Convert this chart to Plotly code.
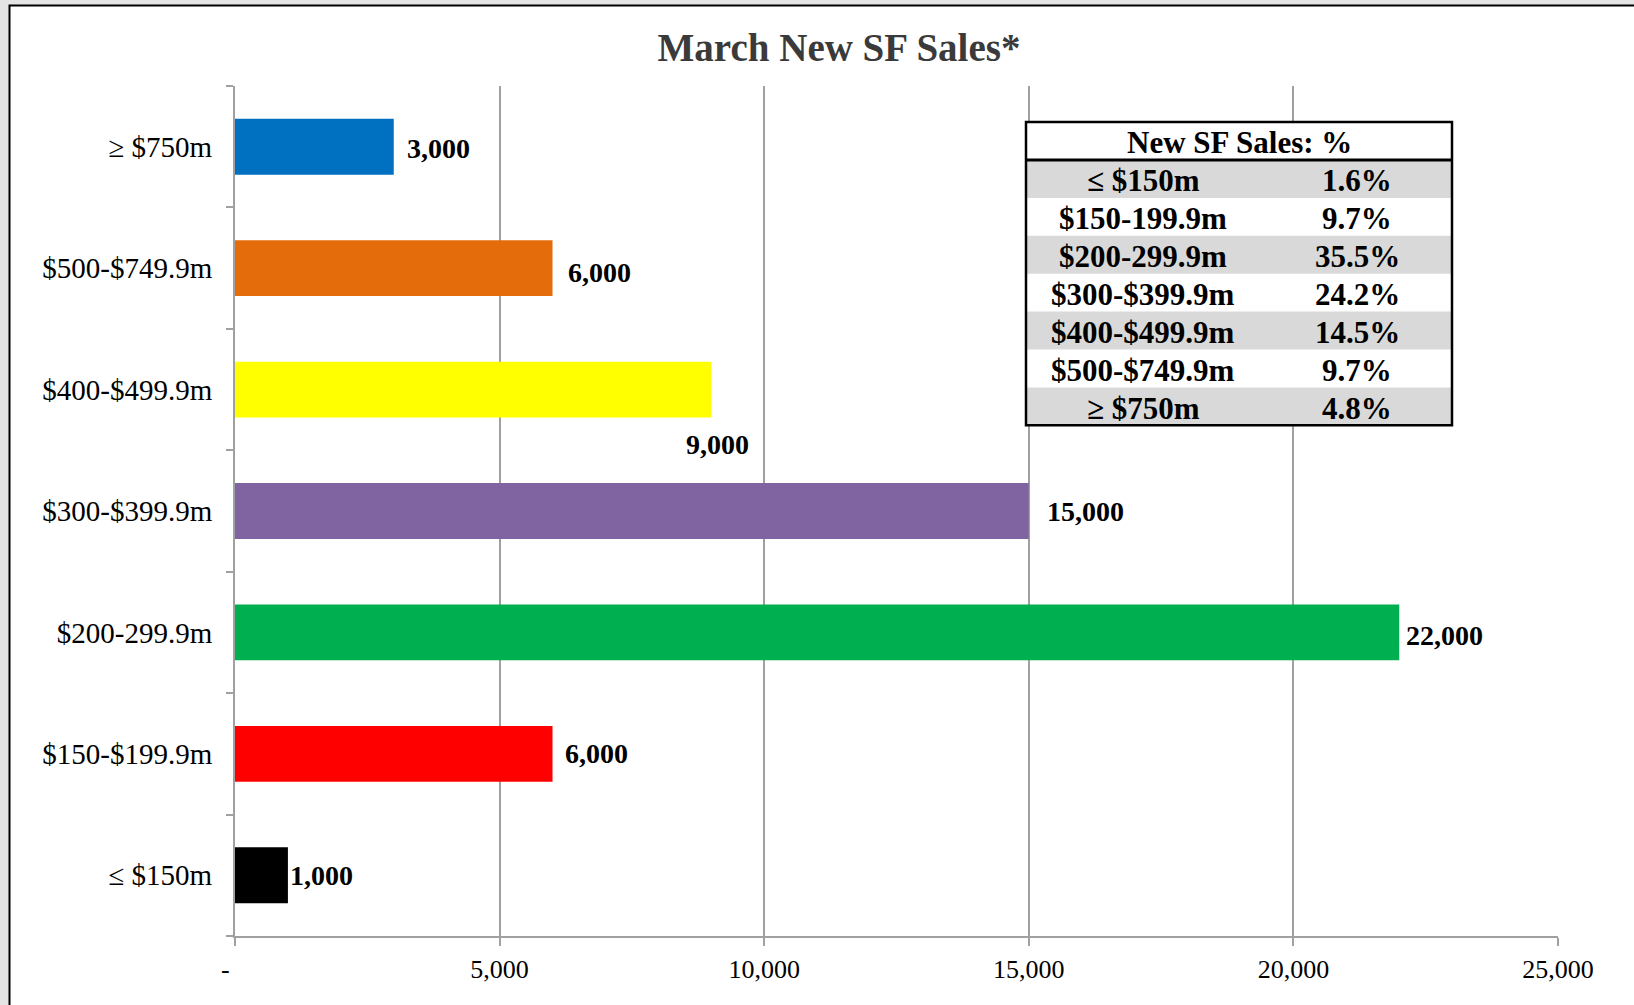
import plotly.graph_objects as go

# ---------------- data ----------------
categories = ["≤ $150m", "$150-$199.9m", "$200-299.9m", "$300-$399.9m",
              "$400-$499.9m", "$500-$749.9m", "≥ $750m"]
sales = [1000, 6000, 22000, 15000, 9000, 6000, 3000]
bar_colors = ["#000000", "#ff0000", "#00b050", "#8064a2", "#ffff00", "#e46c0a", "#0070c0"]

x_tickvals = [0, 5000, 10000, 15000, 20000, 25000]
x_ticktext = ["-\u00a0\u00a0\u00a0", "5,000", "10,000", "15,000", "20,000", "25,000"]

table_header = "New SF Sales: %"
table_labels = ["≤ $150m", "$150-199.9m", "$200-299.9m", "$300-$399.9m",
                "$400-$499.9m", "$500-$749.9m", "≥ $750m"]
table_values = ["1.6%", "9.7%", "35.5%", "24.2%", "14.5%", "9.7%", "4.8%"]

# label offsets (style only)
lbl_xshift = [0, 10, 5, 16, 6, 13, 11]
lbl_yshift = [0, 0, -3, 0, -55, -4, -2]
lbl_anchor = ["left", "left", "left", "left", "center", "left", "left"]

FONT = "Liberation Serif, Times New Roman, serif"
GRID = "#a0a0a0"

W, H = 1634, 1005
ML, MR, MT, MB = 235, 76, 86, 69
PW, PH = W - ML - MR, H - MT - MB


def px_x(p):
    return (p - ML) / PW


def px_y(p):
    return (H - MB - p) / PH


fig = go.Figure()
fig.add_trace(go.Bar(
    y=categories, x=sales, orientation="h",
    marker=dict(color=bar_colors, line=dict(width=0)),
    hoverinfo="x+y", showlegend=False,
))

annotations = []
for i, (c, v) in enumerate(zip(categories, sales)):
    annotations.append(dict(
        x=v, y=c, xref="x", yref="y", text=f"{v:,}", showarrow=False,
        xanchor=lbl_anchor[i], yanchor="middle",
        xshift=lbl_xshift[i], yshift=lbl_yshift[i],
        font=dict(family=FONT, size=28, color="black", weight="bold"),
    ))

# table
tx0, tx1 = px_x(1026), px_x(1452)
ty_top = 122
header_h = 38
row_h = 37.9
TFS = 31
TXT_DY = 2
shapes = []
# chart frame
shapes.append(dict(type="rect", xref="paper", yref="paper",
                   x0=px_x(9.5), x1=px_x(1700), y0=px_y(1100), y1=px_y(5.5),
                   fillcolor="white", line=dict(color="black", width=2), layer="below"))
# table background
shapes.append(dict(type="rect", xref="paper", yref="paper",
                   x0=tx0, x1=tx1, y0=px_y(ty_top + header_h + row_h * len(table_labels)),
                   y1=px_y(ty_top), fillcolor="white", line=dict(width=0), layer="above"))
for i in range(len(table_labels)):
    top = ty_top + header_h + row_h * i
    if i % 2 == 0:
        shapes.append(dict(type="rect", xref="paper", yref="paper",
                           x0=tx0, x1=tx1, y0=px_y(top + row_h), y1=px_y(top),
                           fillcolor="#d9d9d9", line=dict(width=0), layer="above"))
    annotations.append(dict(x=px_x(1143), y=px_y(top + row_h / 2 + TXT_DY), xref="paper", yref="paper",
                            text=table_labels[i], showarrow=False, xanchor="center", yanchor="middle",
                            font=dict(family=FONT, size=TFS, color="black", weight="bold")))
    annotations.append(dict(x=px_x(1357), y=px_y(top + row_h / 2 + TXT_DY), xref="paper", yref="paper",
                            text=table_values[i], showarrow=False, xanchor="center", yanchor="middle",
                            font=dict(family=FONT, size=TFS, color="black", weight="bold")))
annotations.append(dict(x=(tx0 + tx1) / 2, y=px_y(ty_top + header_h / 2 + 1), xref="paper", yref="paper",
                        text=table_header, showarrow=False, xanchor="center", yanchor="middle",
                        font=dict(family=FONT, size=TFS, color="black", weight="bold")))
# header separator line
shapes.append(dict(type="line", xref="paper", yref="paper", x0=tx0, x1=tx1,
                   y0=px_y(ty_top + header_h), y1=px_y(ty_top + header_h),
                   line=dict(color="black", width=3), layer="above"))
# table border
shapes.append(dict(type="rect", xref="paper", yref="paper",
                   x0=tx0, x1=tx1, y0=px_y(ty_top + header_h + row_h * len(table_labels)),
                   y1=px_y(ty_top), fillcolor="rgba(0,0,0,0)",
                   line=dict(color="black", width=2.5), layer="above"))

fig.update_layout(
    width=W, height=H,
    margin=dict(l=ML, r=MR, t=MT, b=MB, pad=0),
    paper_bgcolor="#e4e4e4",
    plot_bgcolor="white",
    bargap=0.54,
    title=dict(text="March New SF Sales*", x=px_x(839), xref="paper", xanchor="center",
               y=1 - 47 / H, yref="container", yanchor="middle",
               font=dict(family=FONT, size=39, color="#3a3a3a", weight="bold")),
    xaxis=dict(range=[0, 25000], tickvals=x_tickvals, ticktext=x_ticktext,
               showgrid=True, gridcolor=GRID, gridwidth=2, zeroline=False,
               showline=True, linecolor=GRID, linewidth=2,
               ticks="outside", ticklen=8, tickwidth=2, tickcolor=GRID,
               ticklabelstandoff=1,
               tickfont=dict(family=FONT, size=26, color="black")),
    yaxis=dict(type="category", categoryorder="array", categoryarray=categories,
               range=[-0.5, len(categories) - 0.5],
               showgrid=False, zeroline=False,
               showline=True, linecolor=GRID, linewidth=2,
               ticks="outside", ticklen=7, tickwidth=2, tickcolor=GRID,
               tickson="boundaries", ticklabelstandoff=15,
               tickfont=dict(family=FONT, size=29, color="black")),
    shapes=shapes,
    annotations=annotations,
)

fig.write_html("out.html", config={"displayModeBar": False},
               post_script="document.body.style.margin='0';document.body.style.background='#e4e4e4';")
